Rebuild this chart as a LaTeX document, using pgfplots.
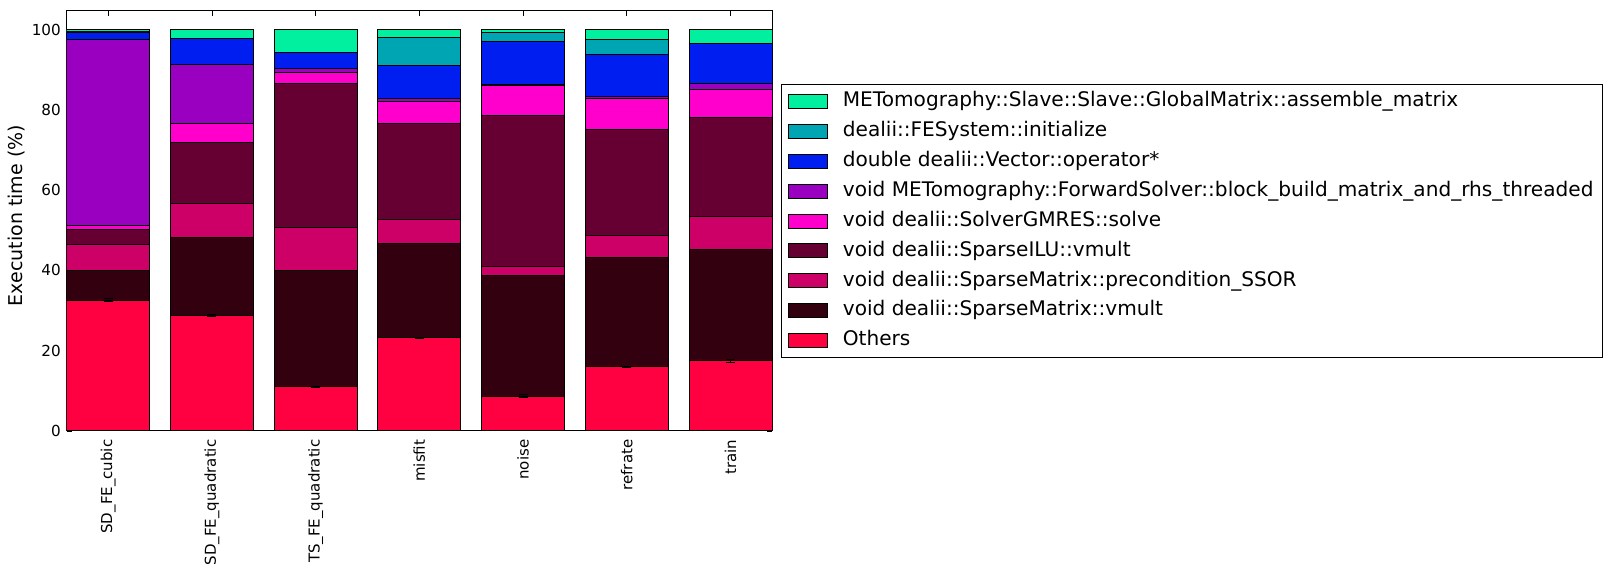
\documentclass[border=0pt]{standalone}
\usepackage{fontspec}
\setmainfont{DejaVu Sans}
\usepackage{pgfplots}
\usepackage{pgfplotstable}
\pgfplotsset{compat=1.18}
\definecolor{cAsm}{RGB}{0,240,160}
\definecolor{cFes}{RGB}{0,165,180}
\definecolor{cVec}{RGB}{0,30,240}
\definecolor{cBlk}{RGB}{153,0,191}
\definecolor{cGmr}{RGB}{255,0,204}
\definecolor{cIlu}{RGB}{102,0,51}
\definecolor{cSsr}{RGB}{204,0,102}
\definecolor{cVml}{RGB}{51,0,16}
\definecolor{cOth}{RGB}{255,0,64}
\pgfplotstableread{
x oth othe vml ssr ilu gmr blk vec fes asm
0 32.6 0.3 7.5 6.4 3.6 1.0 46.5 1.6 0.3 0.5
1 28.7 0.2 19.5 8.5 15.1 4.8 14.6 6.5 0.0 2.3
2 11.0 0.1 28.9 10.7 36.0 2.6 1.2 3.9 0.0 5.7
3 23.2 0.1 23.5 6.0 23.8 5.5 0.8 8.3 7.0 1.9
4 8.7 0.4 30.1 2.1 37.6 7.6 0.2 10.8 2.2 0.7
5 16.0 0.1 27.3 5.4 26.4 7.8 0.5 10.4 3.7 2.5
6 17.5 0.4 27.8 8.2 24.6 6.9 1.5 10.0 0.0 3.5
}\datatable
\pgfplotsset{
  mybar/.style={fill=#1, draw=black, line width=1bp,
    legend image code/.code={\draw[fill=#1,draw=black,line width=1bp] (0bp,-7bp) rectangle (39.5bp,7bp);
      \path (51bp,0bp);}},
}
\begin{document}
\begin{tikzpicture}[x=1bp,y=1bp]
\path[use as bounding box] (0,0) rectangle (1612,584);
\begin{axis}[
  at={(66.7bp,153bp)}, anchor=south west,
  scale only axis, width=705.3bp, height=420.3bp,
  ybar stacked, bar width=0.8,
  xmin=-0.4, xmax=6.4, ymin=0, ymax=104.7,
  xtick={0,...,6},
  xticklabels={SD\_FE\_cubic,SD\_FE\_quadratic,TS\_FE\_quadratic,misfit,noise,refrate,train},
  x tick label style={rotate=90, anchor=east, inner sep=0bp, font=\fontsize{15bp}{18bp}\selectfont},
  xticklabel shift=8.5bp,
  ytick={0,20,...,100},
  y tick label style={inner sep=0bp, font=\fontsize{15.2bp}{18bp}\selectfont},
  yticklabel shift=5.7bp,
  /pgf/number format/assume math mode=true,
  xtick pos=both, ytick pos=both, tick align=inside,
  major tick length=5bp,
  tick style={black, line width=0.8bp},
  axis line style={line width=1bp},
  ylabel={Execution time (\%)},
  ylabel style={font=\fontsize{19bp}{22bp}\selectfont, at={(axis description cs:-0.0705,0.5126)}, anchor=center},
  reverse legend,
  legend cell align=left,
  legend style={at={(1.0133,0.8256)}, anchor=north west,
    font=\fontsize{20.1bp}{24bp}\selectfont, draw=black, line width=1bp,
    inner xsep=6bp, inner ysep=2bp, row sep=0bp,
    nodes={inner xsep=3bp, inner ysep=4.95bp, text height=15.2bp, text depth=4.8bp},
    /tikz/every even column/.append style={column sep=10bp}},
  error bars/error bar style={line width=1bp, black},
  error bars/error mark options={rotate=90, line width=1bp, black, mark size=4.5bp},
]
\addplot[mybar=cOth, error bars/.cd, y dir=both, y explicit] table[x=x, y=oth, y error=othe]{\datatable};
\addplot[mybar=cVml] table[x=x, y=vml]{\datatable};
\addplot[mybar=cSsr] table[x=x, y=ssr]{\datatable};
\addplot[mybar=cIlu] table[x=x, y=ilu]{\datatable};
\addplot[mybar=cGmr] table[x=x, y=gmr]{\datatable};
\addplot[mybar=cBlk] table[x=x, y=blk]{\datatable};
\addplot[mybar=cVec] table[x=x, y=vec]{\datatable};
\addplot[mybar=cFes] table[x=x, y=fes]{\datatable};
\addplot[mybar=cAsm] table[x=x, y=asm]{\datatable};
\legend{Others,void dealii::SparseMatrix::vmult,void dealii::SparseMatrix::precondition\_SSOR,void dealii::SparseILU::vmult,void dealii::SolverGMRES::solve,void METomography::ForwardSolver::block\_build\_matrix\_and\_rhs\_threaded,double dealii::Vector::operator*,dealii::FESystem::initialize,METomography::Slave::Slave::GlobalMatrix::assemble\_matrix}
\end{axis}
\end{tikzpicture}
\end{document}
